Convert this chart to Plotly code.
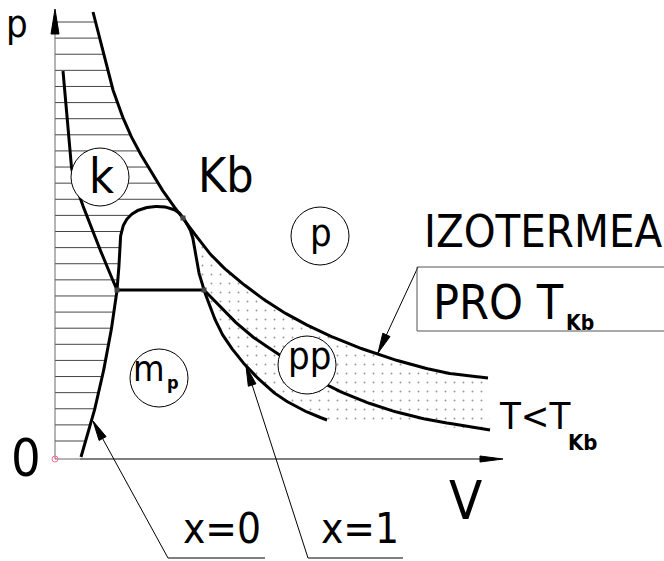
import numpy as np
import plotly.graph_objects as go

# p-V diagram of a real gas (schematic). Coordinates are drawing units:
# V to the right of the p axis, p above the V axis.

# critical isotherm T = T_Kb
crit_V = [38, 45, 55, 65, 78, 95, 112, 128, 158, 192, 225, 258, 292, 325, 358, 392, 433]
crit_p = [447, 419, 379, 349, 319, 289, 262, 241, 202, 172, 149, 131, 116, 104, 94, 86, 81]

# subcritical isotherm T < T_Kb (liquid branch, tie line, vapour branch)
sub_left_V = [8, 12, 17, 25, 35, 48, 62]
sub_left_p = [388, 339, 289, 261, 236, 202, 169]
tie_V = [62, 149]
tie_p = [169, 169]
sub_right_V = [149, 175, 198, 222, 272, 325, 375, 425, 435]
sub_right_p = [169, 142, 122, 106, 74, 52, 39, 31, 29]

# saturation curve: x = 0 line, dome, x = 1 line
sat_V = [26, 35, 45, 55, 62, 64, 65, 70, 80, 95, 110, 123, 131, 137, 141, 149,
         165, 178, 192, 208, 225, 252, 272]
sat_p = [2, 32, 72, 122, 169, 194, 219, 237, 247, 252, 252, 247, 237, 224, 199, 169,
         129, 109, 92, 76, 62, 47, 39]

# critical point Kb and the ends of the tie line
node_V = [62, 149, 128]
node_p = [169, 169, 241]

# region labels drawn in circles
circle_names = ["k", "p", "pp", "mp"]
circle_V = [45, 265, 252, 104]
circle_p = [282, 223, 94, 81]
circle_r = 29

FONT = "DejaVu Sans Condensed, DejaVu Sans, sans-serif"


def catmull_rom(xs, ys, n=16, alpha=0.5):
    """Centripetal Catmull-Rom curve through the given points."""
    P = np.column_stack([xs, ys]).astype(float)
    P = np.vstack([2 * P[0] - P[1], P, 2 * P[-1] - P[-2]])
    out = []
    for i in range(1, len(P) - 2):
        p0, p1, p2, p3 = P[i - 1], P[i], P[i + 1], P[i + 2]
        t0 = 0.0
        t1 = t0 + np.linalg.norm(p1 - p0) ** alpha
        t2 = t1 + np.linalg.norm(p2 - p1) ** alpha
        t3 = t2 + np.linalg.norm(p3 - p2) ** alpha
        ts = np.linspace(t1, t2, n, endpoint=(i == len(P) - 3))
        for t in ts:
            a1 = (t1 - t) / (t1 - t0) * p0 + (t - t0) / (t1 - t0) * p1
            a2 = (t2 - t) / (t2 - t1) * p1 + (t - t1) / (t2 - t1) * p2
            a3 = (t3 - t) / (t3 - t2) * p2 + (t - t2) / (t3 - t2) * p3
            b1 = (t2 - t) / (t2 - t0) * a1 + (t - t0) / (t2 - t0) * a2
            b2 = (t3 - t) / (t3 - t1) * a2 + (t - t1) / (t3 - t1) * a3
            out.append((t2 - t) / (t2 - t1) * b1 + (t - t1) / (t2 - t1) * b2)
    out = np.array(out)
    return out[:, 0], out[:, 1]


def arrow_head(tip, tail, length, half):
    tip = np.asarray(tip, float)
    d = tip - np.asarray(tail, float)
    d /= np.linalg.norm(d)
    n = np.array([-d[1], d[0]])
    base = tip - d * length
    pts = [tip, base + n * half, base - n * half, tip]
    return [q[0] for q in pts], [q[1] for q in pts]


cV, cP = catmull_rom(crit_V, crit_p)
slV, slP = catmull_rom(sub_left_V, sub_left_p)
srV, srP = catmull_rom(sub_right_V, sub_right_p)
sV, sP = catmull_rom(sat_V, sat_p)

fig = go.Figure()

# --- horizontal hatching of the liquid region -------------------------------
hatch_p = np.linspace(18, 437, 27)
top = int(np.argmax(sP))
liq_V, liq_P = sV[: top + 1], sP[: top + 1]
hx, hy = [], []
for lvl in hatch_p:
    right = np.interp(lvl, cP[::-1], cV[::-1])
    if lvl <= liq_P.max():
        right = min(right, np.interp(lvl, liq_P, liq_V))
    hx += [0, right, None]
    hy += [lvl, lvl, None]
fig.add_trace(go.Scatter(x=hx, y=hy, mode="lines",
                         line=dict(color="#454545", width=1), hoverinfo="skip"))

# --- dotted region between the critical isotherm and the x = 1 line ---------
kb = node_V[2]
mask_c = cV >= kb
mask_s = (np.arange(len(sV)) > top) & (sP <= node_p[2])
dx = list(cV[mask_c]) + [sub_right_V[-1]] + list(sV[mask_s][::-1])
dy = list(cP[mask_c]) + [sub_right_p[-1]] + list(sP[mask_s][::-1])
fig.add_trace(go.Scatter(
    x=dx, y=dy, mode="lines", fill="toself", line=dict(width=0),
    fillcolor="rgba(0,0,0,0)",
    fillpattern=dict(shape=".", size=9, solidity=0.035, fgcolor="#303030",
                     bgcolor="rgba(0,0,0,0)"),
    hoverinfo="skip"))

# --- axes ---------------------------------------------------------------------
fig.add_trace(go.Scatter(x=[0, 0, None, 0, 25], y=[0, 430, None, 0, 0], mode="lines",
                         line=dict(color="#6a6a6a", width=1), hoverinfo="skip"))
fig.add_trace(go.Scatter(x=[25, 440], y=[0, 0], mode="lines",
                         line=dict(color="black", width=1.2), hoverinfo="skip"))
for tip, tail, L, h in [((0, 450), (0, 0), 25, 4), ((448, 0), (0, 0), 23, 3)]:
    ax_, ay_ = arrow_head(tip, tail, L, h)
    fig.add_trace(go.Scatter(x=ax_, y=ay_, mode="lines", fill="toself",
                             fillcolor="black", line=dict(color="black", width=1),
                             hoverinfo="skip"))
fig.add_trace(go.Scatter(x=[0], y=[0], mode="markers",
                         marker=dict(symbol="circle-open", size=6,
                                     line=dict(color="#666", width=1)),
                         hoverinfo="skip"))

# --- curves -------------------------------------------------------------------
thick = dict(color="black", width=3)
for xs, ys in [(cV, cP), (slV, slP), (srV, srP), (sV, sP), (tie_V, tie_p)]:
    fig.add_trace(go.Scatter(x=xs, y=ys, mode="lines", line=thick, hoverinfo="skip"))
fig.add_trace(go.Scatter(x=node_V, y=node_p, mode="markers",
                         marker=dict(symbol="square", size=5, color="#444"),
                         hoverinfo="skip"))

# --- leader lines ------------------------------------------------------------
leaders = [
    ([323, 363], [106, 192]),                 # critical isotherm
    ([38, 113, 210], [38, -99, -99]),         # x = 0
    ([191, 253, 348], [93, -99, -99]),        # x = 1
]
for lx, ly in leaders:
    fig.add_trace(go.Scatter(x=lx, y=ly, mode="lines",
                             line=dict(color="black", width=1), hoverinfo="skip"))
    hx_, hy_ = arrow_head((lx[0], ly[0]), (lx[1], ly[1]), 20, 4)
    fig.add_trace(go.Scatter(x=hx_, y=hy_, mode="lines", fill="toself",
                             fillcolor="black", line=dict(color="black", width=1),
                             hoverinfo="skip"))
# label frame for the critical isotherm
fig.add_trace(go.Scatter(x=[609, 362, 362, 609], y=[192, 192, 128, 128], mode="lines",
                         line=dict(color="#555", width=1), hoverinfo="skip"))

# --- circles ------------------------------------------------------------------
shapes = []
for cx, cy in zip(circle_V, circle_p):
    shapes.append(dict(type="circle", xref="x", yref="y",
                       x0=cx - circle_r, x1=cx + circle_r,
                       y0=cy - circle_r, y1=cy + circle_r,
                       fillcolor="white", line=dict(color="black", width=1),
                       layer="above"))

# --- texts --------------------------------------------------------------------
texts = [
    ("p", -38, 458, 38, False, "center", "top"),
    ("0", -29, 1, 52, False, "center", "middle"),
    ("V", 410, -41, 54, False, "center", "middle"),
    ("x=0", 167, -69, 42, False, "center", "middle"),
    ("x=1", 305, -69, 42, False, "center", "middle"),
    ("Kb", 171, 284, 48, False, "center", "middle"),
    ("IZOTERMEA", 608, 228, 45, False, "right", "middle"),
    ("PRO T", 377, 157, 48, False, "left", "middle"),
    ("Kb", 510, 136, 21, True, "left", "middle"),
    ("T<T", 443, 43, 38, False, "left", "middle"),
    ("Kb", 512, 17, 22, True, "left", "middle"),
    ("k", 46, 283, 48, False, "center", "middle"),
    ("p", 266, 226, 38, False, "center", "middle"),
    ("pp", 254, 103, 38, False, "center", "middle"),
    ("m", 94, 91, 36, False, "center", "middle"),
    ("p", 118, 77, 18, True, "center", "middle"),
]
annotations = []
for t, x, y, size, bold, xa, ya in texts:
    annotations.append(dict(
        text=("<b>%s</b>" % t) if bold else t.replace("<", "&lt;"),
        x=x, y=y, xref="x", yref="y", showarrow=False,
        xanchor=xa, yanchor=ya, borderpad=0,
        font=dict(family=FONT, size=size, color="black")))

fig.update_layout(
    width=664, height=561, autosize=False,
    margin=dict(l=0, r=0, t=0, b=0, pad=0),
    paper_bgcolor="white", plot_bgcolor="white",
    showlegend=False,
    xaxis=dict(range=[-55, 609], visible=False, fixedrange=True),
    yaxis=dict(range=[-102, 459], visible=False, fixedrange=True),
    shapes=shapes, annotations=annotations,
)

fig.write_html("out.html")
